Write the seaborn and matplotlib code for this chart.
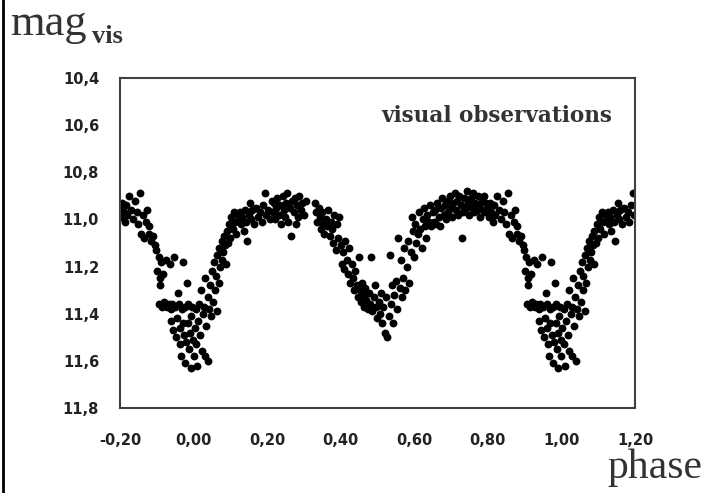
import numpy as np
import pandas as pd
import seaborn as sns
import matplotlib.pyplot as plt
from matplotlib.lines import Line2D
from matplotlib.ticker import MultipleLocator

# phase (0..1) and visual magnitude
phase = [
    0.000, 0.003, 0.006, 0.008, 0.010, 0.012, 0.015, 0.018, 0.020, 0.022,
    0.025, 0.028, 0.030, 0.032, 0.035, 0.038, 0.040, 0.042, 0.045, 0.048,
    0.050, 0.053, 0.056, 0.058, 0.060, 0.063, 0.065, 0.068, 0.070, 0.073,
    0.076, 0.078, 0.080, 0.083, 0.086, 0.088, 0.090, 0.093, 0.096, 0.100,
    0.103, 0.106, 0.110, 0.113, 0.116, 0.120, 0.123, 0.126,
    0.130, 0.133, 0.136, 0.140, 0.143, 0.146, 0.150, 0.153, 0.156, 0.160,
    0.165, 0.170, 0.175, 0.180, 0.185, 0.190, 0.195, 0.198, 0.203, 0.208,
    0.212, 0.215, 0.218, 0.222, 0.225, 0.228, 0.232, 0.235, 0.238, 0.242,
    0.245, 0.248, 0.252, 0.255, 0.258, 0.262, 0.265, 0.268, 0.272, 0.275,
    0.278, 0.282, 0.285, 0.288, 0.292, 0.296, 0.300, 0.305, 0.330, 0.333,
    0.336, 0.340, 0.343, 0.346, 0.350, 0.353, 0.356, 0.360, 0.363, 0.366,
    0.370, 0.373, 0.376, 0.380, 0.383, 0.386, 0.390, 0.393, 0.396, 0.400,
    0.403, 0.406, 0.410, 0.413, 0.416, 0.420, 0.423, 0.426, 0.430, 0.433,
    0.436, 0.440, 0.443, 0.446, 0.450, 0.452, 0.455, 0.458, 0.460, 0.463,
    0.466, 0.470, 0.473, 0.476, 0.480, 0.483, 0.486, 0.490, 0.493, 0.496,
    0.500, 0.503, 0.506, 0.510, 0.513, 0.516, 0.520, 0.523, 0.526, 0.530,
    0.533, 0.536, 0.540, 0.543, 0.546, 0.550, 0.553, 0.556, 0.560, 0.563,
    0.566, 0.570, 0.573, 0.576, 0.580, 0.583, 0.586, 0.590, 0.593, 0.596,
    0.600, 0.603, 0.606, 0.610, 0.613, 0.616, 0.620, 0.623, 0.626, 0.630,
    0.633, 0.636, 0.640, 0.643, 0.646, 0.650, 0.653, 0.656, 0.660, 0.663,
    0.666, 0.670, 0.673, 0.676, 0.680, 0.683, 0.686, 0.690, 0.693, 0.696,
    0.700, 0.703, 0.706, 0.710, 0.713, 0.716, 0.720, 0.723, 0.726, 0.730,
    0.733, 0.736, 0.740, 0.743, 0.746, 0.750, 0.753, 0.756, 0.760, 0.763,
    0.766, 0.770, 0.773, 0.776, 0.780, 0.783, 0.786, 0.790, 0.793, 0.796,
    0.800, 0.803, 0.806, 0.810, 0.813, 0.816, 0.820, 0.825, 0.830, 0.835,
    0.840, 0.845, 0.850, 0.855, 0.858, 0.862, 0.866, 0.870, 0.874, 0.878,
    0.880, 0.885, 0.890, 0.895, 0.898, 0.902, 0.905, 0.906, 0.908, 0.910,
    0.912, 0.915, 0.918, 0.920, 0.925, 0.928, 0.932, 0.935, 0.938, 0.940,
    0.942, 0.945, 0.948, 0.950, 0.952, 0.955, 0.958, 0.960, 0.962, 0.964,
    0.966, 0.968, 0.970, 0.972, 0.974, 0.976, 0.978, 0.980, 0.982, 0.984,
    0.986, 0.988, 0.990, 0.992, 0.994, 0.996, 0.998,
]
mag = [
    11.58, 11.46, 11.38, 11.53, 11.62, 11.43, 11.36, 11.49, 11.30, 11.56,
    11.40, 11.37, 11.58, 11.25, 11.45, 11.33, 11.60, 11.38, 11.28, 11.41,
    11.22, 11.35, 11.18, 11.30, 11.24, 11.39, 11.15, 11.27, 11.12, 11.20,
    11.09, 11.17, 11.14, 11.07, 11.11, 11.19, 11.05, 11.10, 11.02, 11.08,
    10.99, 11.04, 10.97, 11.01, 11.06, 10.98, 11.00, 10.97,
    11.02, 10.99, 11.05, 10.96, 11.01, 11.09, 10.98, 10.93, 11.00, 10.96,
    11.02, 10.95, 10.99, 10.97, 11.01, 10.94, 10.89, 10.98, 10.96, 11.00,
    10.92, 10.97, 10.93, 11.00, 10.95, 10.91, 10.98, 10.94, 11.02, 10.90,
    10.96, 10.99, 10.93, 10.89, 11.01, 10.95, 11.07, 10.92, 10.97, 10.91,
    11.02, 10.94, 10.99, 10.90, 10.96, 10.93, 10.98, 10.92, 10.93, 10.97,
    11.01, 10.95, 10.99, 11.04, 10.97, 11.02, 11.06, 11.00, 11.03, 10.96,
    11.07, 11.01, 11.04, 11.10, 10.98, 11.13, 11.02, 11.08, 10.99, 11.11,
    11.19, 11.14, 11.21, 11.09, 11.17, 11.23, 11.12, 11.27, 11.19, 11.25,
    11.30, 11.22, 11.28, 11.33, 11.16, 11.30, 11.35, 11.27, 11.32, 11.37,
    11.29, 11.34, 11.38, 11.31, 11.36, 11.16, 11.39, 11.33, 11.28, 11.37,
    11.42, 11.35, 11.40, 11.31, 11.44, 11.37, 11.48, 11.33, 11.50, 11.41,
    11.15, 11.36, 11.28, 11.44, 11.32, 11.26, 11.38, 11.08, 11.29, 11.17,
    11.33, 11.25, 11.12, 11.30, 11.20, 11.09, 11.27, 11.14, 10.99, 11.05,
    11.16, 11.02, 11.10, 11.06, 10.97, 11.04, 11.12, 11.00, 10.95, 11.03,
    11.08, 10.98, 11.01, 10.94, 11.03, 10.97, 11.01, 10.96, 11.02, 10.93,
    10.99, 11.03, 10.95, 10.91, 10.98, 10.94, 11.00, 10.92, 10.97, 10.90,
    10.95, 10.99, 10.93, 10.89, 10.96, 10.92, 10.98, 10.90, 10.94, 11.08,
    10.97, 10.91, 10.95, 10.88, 10.93, 10.98, 10.91, 10.95, 10.89, 10.97,
    10.93, 10.96, 10.90, 10.94, 10.99, 10.92, 10.96, 10.90, 10.97, 10.93,
    10.95, 10.99, 10.93, 10.97, 11.01, 10.94, 10.98, 10.90, 10.96, 11.00,
    10.92, 10.97, 11.02, 10.89, 11.06, 10.98, 11.08, 11.01, 10.96, 11.03,
    11.06, 11.09, 11.07, 11.11, 11.13, 11.22, 11.16, 11.36, 11.25, 11.28,
    11.18, 11.37, 11.23, 11.35, 11.17, 11.37, 11.36, 11.19, 11.38, 11.43,
    11.36, 11.47, 11.16, 11.37, 11.50, 11.42, 11.31, 11.36, 11.46, 11.53,
    11.58, 11.38, 11.44, 11.18, 11.49, 11.37, 11.61, 11.52, 11.27, 11.44,
    11.36, 11.55, 11.48, 11.63, 11.41, 11.37, 11.51,
]

xticks = [-0.2, 0.0, 0.2, 0.4, 0.6, 0.8, 1.0, 1.2]
xtick_labels = ['-0,20', '0,00', '0,20', '0,40', '0,60', '0,80', '1,00', '1,20']
yticks = [10.4, 10.6, 10.8, 11.0, 11.2, 11.4, 11.6, 11.8]
ytick_labels = ['10,4', '10,6', '10,8', '11,0', '11,2', '11,4', '11,6', '11,8']

df = pd.DataFrame({'phase': phase, 'mag': mag})
# the curve is shown from -0.2 to 1.2, so the ends repeat
df = pd.concat([df, df[df.phase >= 0.8].assign(phase=lambda d: d.phase - 1),
                df[df.phase <= 0.2].assign(phase=lambda d: d.phase + 1)],
               ignore_index=True)

sns.set_style('white')
plt.rcParams['font.family'] = ['DejaVu Sans']

fig = plt.figure(figsize=(7.07, 4.93), dpi=100)
ax = fig.add_axes([0.1697, 0.1724, 0.7284, 0.6694])
sns.scatterplot(data=df, x='phase', y='mag', ax=ax, color='black', s=32,
                linewidth=0, legend=False)

ax.set_xlim(-0.2, 1.2)
ax.set_ylim(11.8, 10.4)
ax.set_xticks(xticks)
ax.set_xticklabels(xtick_labels)
ax.set_yticks(yticks)
ax.set_yticklabels(ytick_labels)
ax.xaxis.set_minor_locator(MultipleLocator(0.1))
ax.yaxis.set_minor_locator(MultipleLocator(0.1))
ax.tick_params(which='both', direction='in', length=4, width=1, color='#404040',
               labelsize=10.5, labelcolor='#222222')
ax.tick_params(axis='x', pad=18)
ax.tick_params(axis='y', pad=15)
for lab in ax.get_xticklabels() + ax.get_yticklabels():
    lab.set_fontweight('bold')
ax.set_xlabel('')
ax.set_ylabel('')
for sp in ax.spines.values():
    sp.set_color('#404040')
    sp.set_linewidth(1.5)

fig.text(0.866, 0.7525, 'visual observations', ha='right', va='baseline',
         fontsize=15.5, fontweight='bold', family='DejaVu Serif', color='#333333')
fig.text(0.015, 0.929, 'mag', ha='left', va='baseline', fontsize=32,
         family='Liberation Serif', color='#333333')
fig.text(0.130, 0.913, 'vis', ha='left', va='baseline', fontsize=19,
         fontweight='bold', family='Liberation Serif', color='#333333')
fig.text(0.993, 0.030, 'phase', ha='right', va='baseline', fontsize=30,
         family='Liberation Serif', color='#333333')

fig.add_artist(Line2D([0.004, 0.004], [0, 1], transform=fig.transFigure,
                      color='black', linewidth=2))

fig.savefig('out.png', dpi=100)
